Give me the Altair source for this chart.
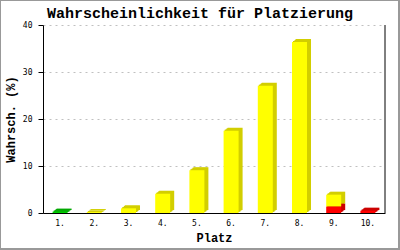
import altair as alt
import pandas as pd

places = ["1.", "2.", "3.", "4.", "5.", "6.", "7.", "8.", "9.", "10."]
green = [0.3, 0, 0, 0, 0, 0, 0, 0, 0, 0]
red = [0, 0, 0, 0, 0, 0, 0, 0, 1.4, 0.5]
yellow = [0, 0.2, 1.0, 4.1, 9.1, 17.5, 27.1, 36.4, 2.5, 0]
y_ticks = [0, 10, 20, 30, 40]

series = [
    ("green", green, "#00D000", "#00A800"),
    ("red", red, "#FF0000", "#CC0000"),
    ("yellow", yellow, "#FFFF00", "#D2CE00"),
]

rows = []
for i, p in enumerate(places):
    base = 0.0
    for name, vals, front, side in series:
        v = vals[i]
        if v > 0:
            rows.append(dict(place=p, start=base, end=base + v, front=front, side=side))
            base += v
df = pd.DataFrame(rows)
one = pd.DataFrame({"a": [0]})

MONO = "Liberation Mono"

x = alt.X(
    "place:N",
    sort=places,
    scale=alt.Scale(paddingInner=0, paddingOuter=0),
    axis=alt.Axis(
        title="Platz", ticks=False, labelAngle=0, labelPadding=6, grid=False,
        domainColor="black", labelFont="DejaVu Sans Mono", labelFontSize=8,
        labelColor="black", titleFont=MONO, titleFontSize=12, titleFontWeight="bold",
        titleColor="black", titlePadding=5,
    ),
)
y = alt.Y(
    "end:Q",
    scale=alt.Scale(domain=[0, 40], nice=False),
    axis=alt.Axis(
        title="Wahrsch. (%)", values=y_ticks, tickSize=5, tickColor="black",
        domainColor="black", grid=True, gridColor="#c0c0c0", gridDash=[2, 4],
        labelFont="DejaVu Sans Mono", labelFontSize=8, labelColor="black", labelPadding=6,
        titleFont=MONO, titleFontSize=12, titleFontWeight="bold", titleColor="black",
        titlePadding=5,
    ),
)

offsets = [(1, 1), (2, 1.5), (3, 2.5), (4, 3)]
layers = []
for dx, dy in offsets:
    layers.append(
        alt.Chart(df).mark_bar(size=15, xOffset=dx, yOffset=-dy, y2Offset=-dy).encode(
            x=x, y=y, y2="start:Q", color=alt.Color("side:N", scale=None)
        )
    )
front = alt.Chart(df).mark_bar(size=15).encode(
    x=x, y=y, y2="start:Q", color=alt.Color("front:N", scale=None)
)
layers.append(front)

right_line = alt.Chart(one).mark_rule(color="black", strokeWidth=1).encode(
    x=alt.value(342), y=alt.value(0), y2=alt.value(188)
)
title = alt.Chart(one).mark_text(
    text="Wahrscheinlichkeit für Platzierung", font=MONO, fontSize=15,
    fontWeight="bold", color="black", baseline="middle", align="center",
).encode(x=alt.value(157), y=alt.value(-12.5))
border = alt.Chart(one).mark_rect(stroke="#999999", strokeWidth=2, fillOpacity=0).encode(
    x=alt.value(-43), x2=alt.value(356), y=alt.value(-25), y2=alt.value(224)
)

chart = alt.layer(*layers, right_line, title, border).properties(
    width=342,
    height=188,
    autosize=alt.AutoSizeParams(type="none"),
    padding={"left": 43, "top": 25, "right": 15, "bottom": 37},
    background="white",
).configure_view(strokeWidth=0)

chart.save("out.html", embed_options={"renderer": "svg", "actions": False})
